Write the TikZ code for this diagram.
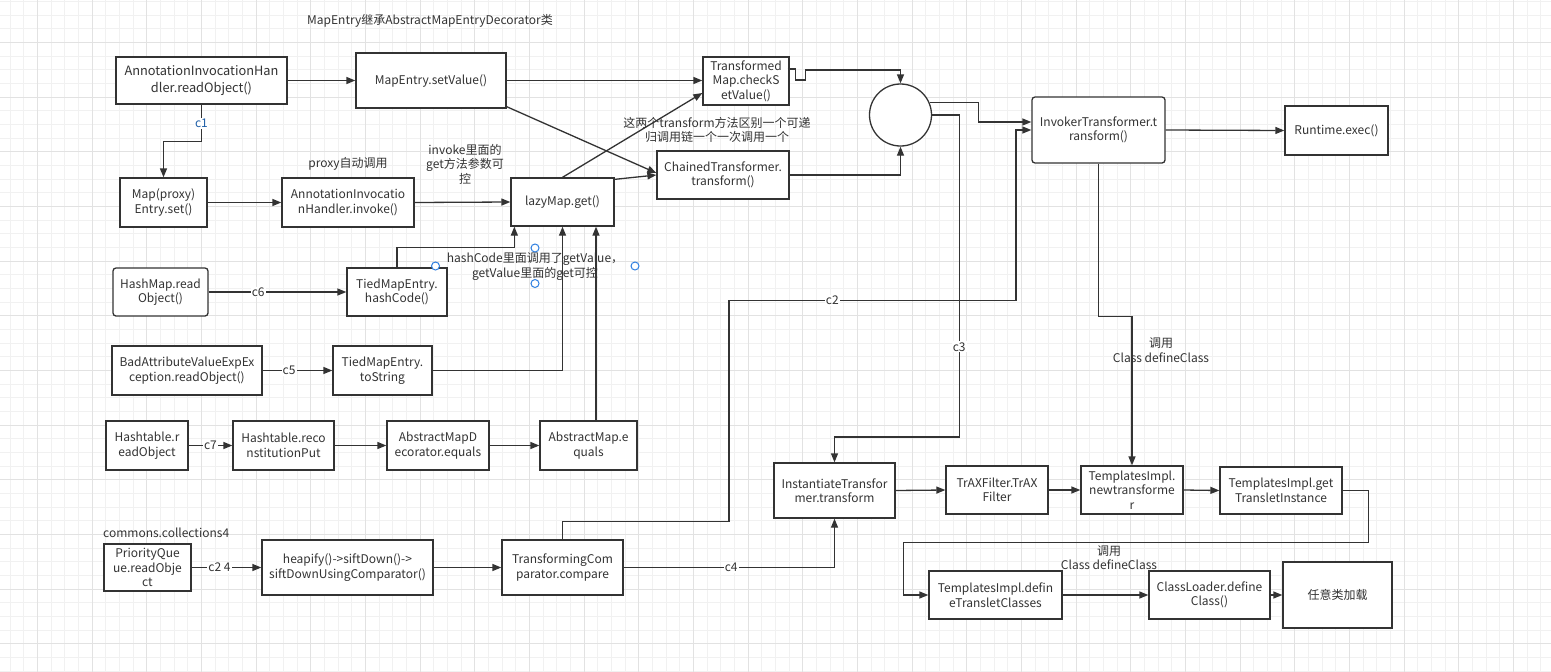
\documentclass[tikz,border=0pt]{standalone}
\usepackage{fontspec}
\setmainfont{Noto Sans CJK SC}
\usetikzlibrary{arrows.meta,calc}
\definecolor{linec}{HTML}{333333}
\definecolor{textc}{HTML}{333333}
\definecolor{gridminor}{RGB}{241,241,241}
\definecolor{gridmajor}{RGB}{226,226,226}
\definecolor{handle}{HTML}{2F7FE0}
\definecolor{cone}{HTML}{1F5FA8}
\begin{document}
\begin{tikzpicture}[x=1pt,y=-1pt,
  every node/.style={text=textc},
  box/.style={draw=linec, line width=1.3pt, fill=white, align=center,
    font=\fontsize{12}{14.5}\selectfont, inner sep=0pt},
  rbox/.style={box, rounded corners=3pt},
  txt/.style={align=center, font=\fontsize{12}{14.5}\selectfont, inner sep=0pt},
  lbl/.style={fill=white, inner sep=1pt, font=\fontsize{12}{14}\selectfont},
  arr/.style={draw=linec, line width=1.3pt, -{Triangle[length=9pt,width=7pt]}},
  ln/.style={draw=linec, line width=1.3pt},
  hdl/.style={circle, draw=handle, line width=1pt, fill=white, minimum size=8pt, inner sep=0pt}
]
\useasboundingbox (0,0) rectangle (1551,672);
\fill[white] (0,0) rectangle (1551,672);
% grid
\begin{scope}
\clip (0,0) rectangle (1551,672);
\foreach \i in {-3,...,115} {
  \pgfmathsetmacro\gx{37.4+\i*13.667}
  \draw[gridminor, line width=1pt] (\gx,0) -- (\gx,672);
}
\foreach \j in {-4,...,46} {
  \pgfmathsetmacro\gy{42.6+\j*13.667}
  \draw[gridminor, line width=1pt] (0,\gy) -- (1551,\gy);
}
\foreach \i in {-1,...,28} {
  \pgfmathsetmacro\gx{37.4+\i*54.667}
  \draw[gridmajor, line width=1pt] (\gx,0) -- (\gx,672);
}
\foreach \j in {-1,...,12} {
  \pgfmathsetmacro\gy{42.6+\j*54.667}
  \draw[gridmajor, line width=1pt] (0,\gy) -- (1551,\gy);
}
\end{scope}

% free texts
\node[txt] (title) at (430,21) {MapEntry继承AbstractMapEntryDecorator类};
\node[txt] (proxy) at (348,164) {proxy自动调用};
\node[txt] (invtxt) at (465,164) {invoke里面的\\get方法参数可\\控};
\node[txt] (diff) at (717,130) {这两个transform方法区别一个可递\\归调用链一个一次调用一个};
\node[txt] (hashtxt) at (535,266.5) {hashCode里面调用了getValue，\\getValue里面的get可控};
\node[txt, anchor=west] (cc4) at (103,533) {commons.collections4};
\node[txt] (call1) at (1161,350) {调用\\Class defineClass};
\node[txt, font=\fontsize{12}{13.5}\selectfont] (call2) at (1109,557.5) {调用\\Class defineClass};

% nodes
\node[box, minimum width=171pt, minimum height=47pt, font=\fontsize{12.8}{16.5}\selectfont] (aih) at (201.5,80.5) {AnnotationInvocationHan\\dler.readObject()};
\node[box, minimum width=150pt, minimum height=55pt] (mev) at (431,80.5) {MapEntry.setValue()};
\node[box, minimum width=86pt, minimum height=48pt] (tmc) at (746,81) {Transformed\\Map.checkS\\etValue()};
\node[circle, draw=linec, line width=1.3pt, fill=white, minimum size=62pt, inner sep=0pt] (circ) at (900.5,115) {};
\node[rbox, minimum width=133pt, minimum height=66pt] (inv) at (1098.5,130) {InvokerTransformer.t\\ransform()};
\node[box, minimum width=103pt, minimum height=49pt] (rt) at (1336.5,130.5) {Runtime.exec()};
\node[box, minimum width=87pt, minimum height=49pt] (mps) at (163.5,202.5) {Map(proxy)\\Entry.set()};
\node[box, minimum width=132pt, minimum height=49pt] (aii) at (348,202.5) {AnnotationInvocatio\\nHandler.invoke()};
\node[box, minimum width=103pt, minimum height=48pt] (lmg) at (562.5,202) {lazyMap.get()};
\node[box, minimum width=132pt, minimum height=48pt] (cht) at (723,175) {ChainedTransformer.\\transform()};
\node[rbox, minimum width=95pt, minimum height=48pt] (hmr) at (160.5,292) {HashMap.read\\Object()};
\node[box, minimum width=100pt, minimum height=48pt] (tmh) at (397,292) {TiedMapEntry.\\hashCode()};
\node[box, minimum width=150pt, minimum height=49pt] (bav) at (187,370.5) {BadAttributeValueExpEx\\ception.readObject()};
\node[box, minimum width=99pt, minimum height=49pt] (tms) at (382.5,370.5) {TiedMapEntry.\\toString};
\node[box, minimum width=82pt, minimum height=49pt] (htr) at (147,445.5) {Hashtable.r\\eadObject};
\node[box, minimum width=101pt, minimum height=49pt] (htp) at (283.5,445.5) {Hashtable.reco\\nstitutionPut};
\node[box, minimum width=102pt, minimum height=49pt] (amd) at (438,445.5) {AbstractMapD\\ecorator.equals};
\node[box, minimum width=97pt, minimum height=49pt] (ame) at (588.5,445.5) {AbstractMap.e\\quals};
\node[box, minimum width=87pt, minimum height=47pt] (pqr) at (147.5,567.5) {PriorityQue\\ue.readObje\\ct};
\node[box, minimum width=171pt, minimum height=55pt] (hpf) at (347.5,567.5) {heapify()->siftDown()->\\siftDownUsingComparator()};
\node[box, minimum width=121pt, minimum height=55pt] (tcc) at (562.5,567.5) {TransformingCom\\parator.compare};
\node[box, minimum width=121pt, minimum height=55pt] (itt) at (834.5,490.5) {InstantiateTransfor\\mer.transform};
\node[box, minimum width=102pt, minimum height=48pt] (trx) at (997,490) {TrAXFilter.TrAX\\Filter};
\node[box, minimum width=102pt, minimum height=48pt] (tnt) at (1132,490) {TemplatesImpl.\\newtransforme\\r};
\node[box, minimum width=122pt, minimum height=47pt] (tgi) at (1281,490.5) {TemplatesImpl.get\\TransletInstance};
\node[box, minimum width=133pt, minimum height=48pt] (tdc) at (995.5,595) {TemplatesImpl.defin\\eTransletClasses};
\node[box, minimum width=121pt, minimum height=48pt] (cld) at (1209.5,595) {ClassLoader.define\\Class()};
\node[box, minimum width=109pt, minimum height=66pt] (rnd) at (1337.5,595) {任意类加载};

% edges, top part
\draw[arr] (aih.east) -- (mev.west);
\draw[arr] (aih.south) -- node[lbl, text=cone] {c1} ++(0,37) -| (mps.north);
\draw[arr] (mps.east) -- (aii.west);
\draw[arr] (aii.east) -- (lmg.west);
\draw[arr] (mev.east) -- (mev.east -| tmc.west);
\draw[arr] ($(mev.south east)+(0,-2)$) -- ($(cht.west)+(0,-2)$);
\draw[arr] (lmg.north) -- ($(tmc.west)+(0,12)$);
\draw[arr] ($(lmg.north east)+(0,2)$) -- (cht.west);
\draw[arr] ($(tmc.east)+(-2,-12)$) -- ++(8,0) -- ++(0,11) -- ++(10,0) -- ++(0,-10) -| (circ.north);
\draw[arr] (cht.east) -| (circ.south);
\draw[arr] (circ.23) -- ++(49,0) |- ($(inv.west)+(0,-8)$);
\draw[arr] (inv.east) -- (rt.west);
\draw[arr] (circ.east) -- ++(27,0) -- node[lbl, pos=0.72] {c3} ++(0,322) -| (itt.north);
\draw[arr] (tcc.north) -- ++(0,-18) -- ++(166.5,0) -- ++(0,-221) -- node[lbl, pos=0.36] {c2} ++(287,0) |- (inv.west);
\draw[arr] (inv.south) -- ++(0,153) -| (tnt.north);

% edges into lazyMap
\draw[arr] (hmr.east) -- node[lbl, pos=0.36] {c6} (tmh.west);
\draw[arr] (tmh.north) -- ++(0,-20) -| ($(lmg.south west)+(4,0)$);
\draw[arr] (bav.east) -- node[lbl, pos=0.38] {c5} (tms.west);
\draw[arr] (tms.east) -| (lmg.south);
\draw[arr] (htr.east) -- node[lbl] {c7} (htp.west);
\draw[arr] (htp.east) -- (amd.west);
\draw[arr] (amd.east) -- (ame.west);
\coordinate (ameTop) at ($(ame.north)+(7.5,0)$);
\draw[arr] (ameTop) -- (ameTop |- lmg.south);

% bottom part
\draw[arr] (pqr.east) -- node[lbl, pos=0.4] {c2 4} (hpf.west);
\draw[arr] (hpf.east) -- (tcc.west);
\draw[arr] (tcc.east) -- node[lbl, pos=0.51] {c4} (tcc.east -| itt.south) -- (itt.south);
\draw[arr] (itt.east) -- (trx.west);
\draw[arr] (trx.east) -- (tnt.west);
\draw[arr] (tnt.east) -- (tgi.west);
\draw[arr] (tgi.east) -- ++(26,0) -- ++(0,52) -- ++(-465,0) |- (tdc.west);
\draw[arr] (tdc.east) -- (cld.west);
\draw[arr] (cld.east) -- (rnd.west);

% selection handles
\node[hdl] (h1) at (435.5,266) {};
\node[hdl] (h2) at (535,248) {};
\node[hdl] (h3) at (535,283.5) {};
\node[hdl] (h4) at (635,266) {};
\end{tikzpicture}
\end{document}
